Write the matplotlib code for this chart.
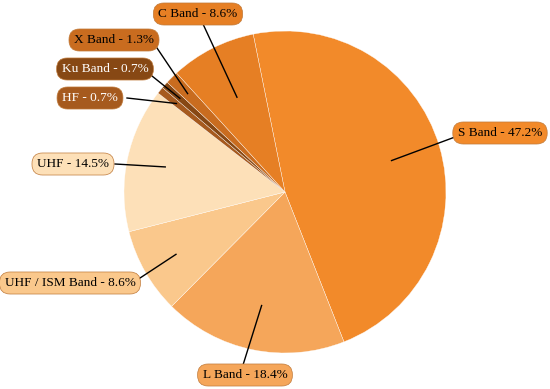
import numpy as np
import matplotlib.pyplot as plt

labels = ["S Band", "L Band", "UHF / ISM Band", "UHF", "HF", "Ku Band", "X Band", "C Band"]
shares = [47.2, 18.4, 8.6, 14.5, 0.7, 0.7, 1.3, 8.6]
colors = ["#f28a2a", "#f5a65a", "#fac88c", "#fde0b8", "#a65a1e", "#874814", "#c96c1f", "#e67f24"]
text_colors = ["black", "black", "black", "black", "white", "white", "black", "black"]

# label box centres in pixels (x, y from top)
label_pos = [(500, 133), (245, 375), (70, 283), (73, 164), (90, 98), (105, 69), (114, 40), (198, 14)]
# where the connector leaves the box (pixels)
line_start = [(455, 137), (243, 365), (137, 280), (115, 164), (127, 98), (152, 76), (157, 48), (203, 24)]
# how far into the slice the connector reaches (fraction of radius)
line_depth = [0.69, 0.72, 0.78, 0.76, 0.87, 0.875, 0.86, 0.66]

W, H = 550, 389
CX, CY, R = 285, 192, 161
START = 101.4

fig = plt.figure(figsize=(5.5, 3.89), dpi=100)
ax = fig.add_axes([0, 0, 1, 1])

wedges, _ = ax.pie(shares, colors=colors, startangle=START, counterclock=False,
                   center=(CX, H - CY), radius=R, frame=True,
                   wedgeprops=dict(edgecolor="#ffffff", linewidth=0.25))
ax.set_xlim(0, W)
ax.set_ylim(0, H)
ax.set_aspect("equal")
ax.axis("off")

for i, w in enumerate(wedges):
    mid = np.deg2rad((w.theta1 + w.theta2) / 2)
    ix = CX + line_depth[i] * R * np.cos(mid)
    iy = (H - CY) + line_depth[i] * R * np.sin(mid)
    sx, sy = line_start[i]
    ax.plot([sx, ix], [H - sy, iy], color="black", lw=1.0, zorder=3)
    lx, ly = label_pos[i]
    ax.text(lx, H - ly, f"{labels[i]} - {shares[i]}%", ha="center", va="center",
            fontsize=9.5, family="Liberation Serif", color=text_colors[i], zorder=5,
            bbox=dict(boxstyle="round,pad=0.38,rounding_size=0.8", fc=colors[i],
                      ec="#c07a3a", lw=0.5))

fig.savefig("out.png", dpi=100)
